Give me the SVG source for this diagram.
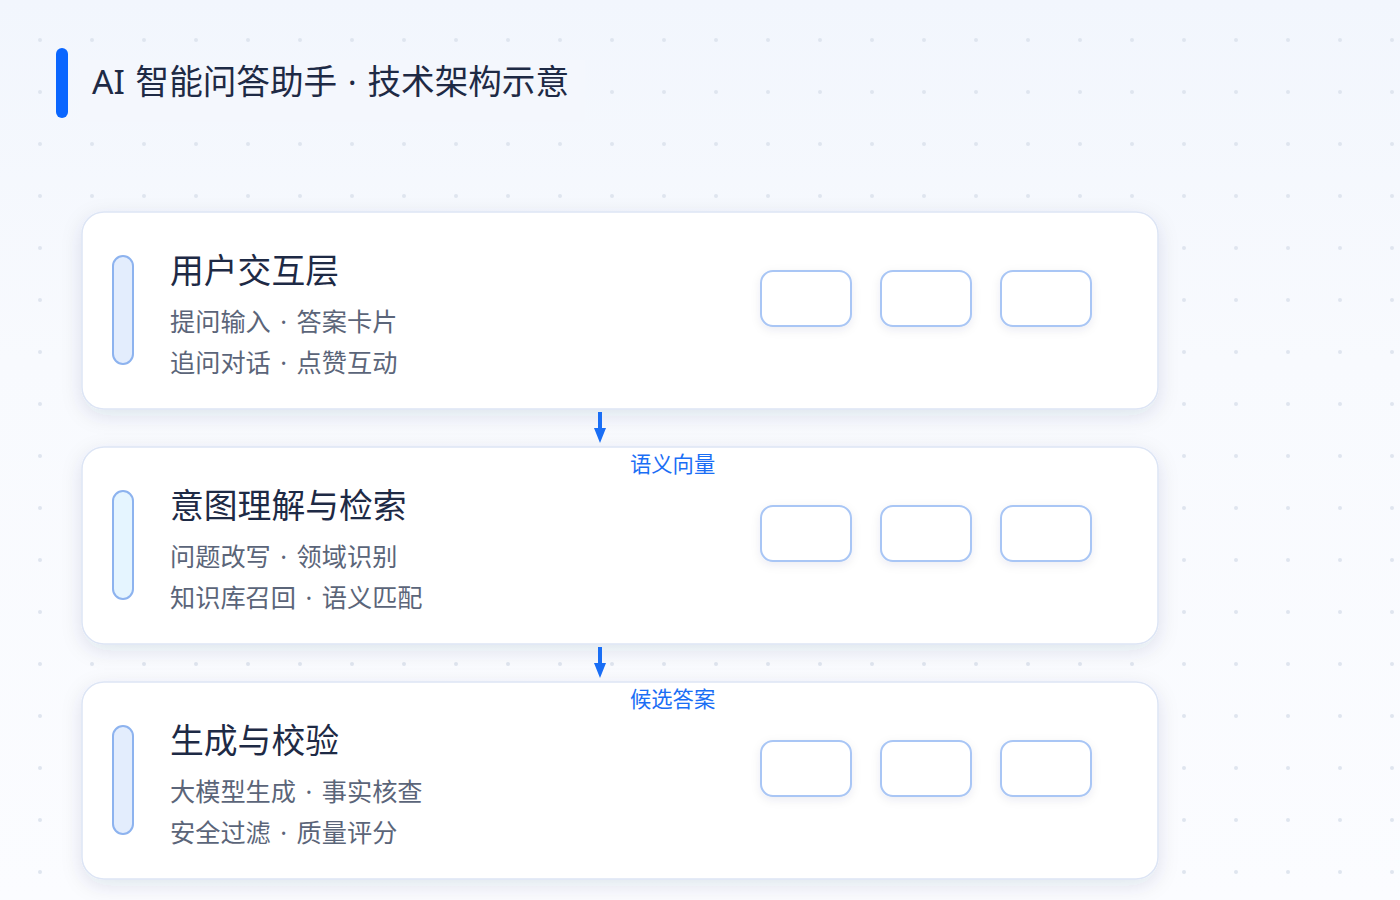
<svg xmlns="http://www.w3.org/2000/svg" width="1400" height="900" viewBox="0 0 1400 900">
<defs>
<linearGradient id="bg" x1="0" y1="0" x2="0" y2="1">
<stop offset="0" stop-color="#f2f6fd"/>
<stop offset="0.4" stop-color="#f8fafe"/>
<stop offset="1" stop-color="#fbfcff"/>
</linearGradient>
<pattern id="dots" x="14" y="14" width="52" height="52" patternUnits="userSpaceOnUse">
<circle cx="26" cy="26" r="2" fill="#dfe5ef"/>
</pattern>
<filter id="cardShadow" x="-10%" y="-20%" width="120%" height="150%">
<feDropShadow dx="0" dy="6" stdDeviation="10" flood-color="#1e2a55" flood-opacity="0.11"/>
</filter>
<filter id="chipShadow" x="-30%" y="-40%" width="160%" height="190%">
<feDropShadow dx="0" dy="3" stdDeviation="5" flood-color="#1e2a55" flood-opacity="0.08"/>
</filter>
<style>
.card{fill:#ffffff;stroke:#dde5f5;stroke-width:1.5;filter:url(#cardShadow);}
.pill{stroke:#8db3ef;stroke-width:2;}
.chip{fill:#ffffff;stroke:#a9c6f5;stroke-width:2;filter:url(#chipShadow);}
.t{font-family:"Noto Sans","Noto Sans CJK SC",sans-serif;font-size:33.6px;fill:#1e2a45;word-spacing:2px;}
.h{font-family:"Noto Sans","Noto Sans CJK SC",sans-serif;font-size:33.8px;fill:#1e2a45;}
.sub{font-family:"Noto Sans","Noto Sans CJK SC",sans-serif;font-size:25.2px;fill:#5b6579;word-spacing:3px;}
.lbl{font-family:"Noto Sans","Noto Sans CJK SC",sans-serif;font-size:21.3px;fill:#1a6ef5;}
.conn{stroke:#1a6ef5;stroke-width:4;fill:none;}
.head{fill:#1a6ef5;}
</style>
</defs>
<rect width="1400" height="900" fill="url(#bg)"/>
<rect width="1400" height="900" fill="url(#dots)"/>
<rect x="80" y="60" width="505" height="62" fill="#f4f7fd"/>

<g id="title">
<rect x="56" y="48" width="12" height="70" rx="6" fill="#0a66ff"/>
<text x="92" y="94" class="t">AI 智能问答助手 · 技术架构示意</text>
</g>

<g id="layer1">
<rect class="card" x="82" y="212" width="1076" height="197" rx="22"/>
<rect class="pill" x="113" y="256" width="20" height="108" rx="10" fill="#e3edfd"/>
<text x="170" y="283" class="h">用户交互层</text>
<text x="170" y="331" class="sub">提问输入 · 答案卡片</text>
<text x="170" y="372" class="sub">追问对话 · 点赞互动</text>
<rect class="chip" x="761" y="271" width="90" height="55" rx="12"/>
<rect class="chip" x="881" y="271" width="90" height="55" rx="12"/>
<rect class="chip" x="1001" y="271" width="90" height="55" rx="12"/>
</g>

<g id="layer2">
<rect class="card" x="82" y="447" width="1076" height="197" rx="22"/>
<rect class="pill" x="113" y="491" width="20" height="108" rx="10" fill="#e5f5ff"/>
<text x="170" y="518" class="h">意图理解与检索</text>
<text x="170" y="566" class="sub">问题改写 · 领域识别</text>
<text x="170" y="607" class="sub">知识库召回 · 语义匹配</text>
<rect class="chip" x="761" y="506" width="90" height="55" rx="12"/>
<rect class="chip" x="881" y="506" width="90" height="55" rx="12"/>
<rect class="chip" x="1001" y="506" width="90" height="55" rx="12"/>
</g>

<g id="layer3">
<rect class="card" x="82" y="682" width="1076" height="197" rx="22"/>
<rect class="pill" x="113" y="726" width="20" height="108" rx="10" fill="#e3edfd"/>
<text x="170" y="753" class="h">生成与校验</text>
<text x="170" y="801" class="sub">大模型生成 · 事实核查</text>
<text x="170" y="842" class="sub">安全过滤 · 质量评分</text>
<rect class="chip" x="761" y="741" width="90" height="55" rx="12"/>
<rect class="chip" x="881" y="741" width="90" height="55" rx="12"/>
<rect class="chip" x="1001" y="741" width="90" height="55" rx="12"/>
</g>

<g id="connectors">
<line class="conn" x1="600" y1="412" x2="600" y2="431"/>
<path class="head" d="M594 428 L606 428 L600 443 Z"/>
<text x="630" y="472" class="lbl">语义向量</text>
<line class="conn" x1="600" y1="647" x2="600" y2="666"/>
<path class="head" d="M594 663 L606 663 L600 678 Z"/>
<text x="630" y="707" class="lbl">候选答案</text>
</g>
</svg>
